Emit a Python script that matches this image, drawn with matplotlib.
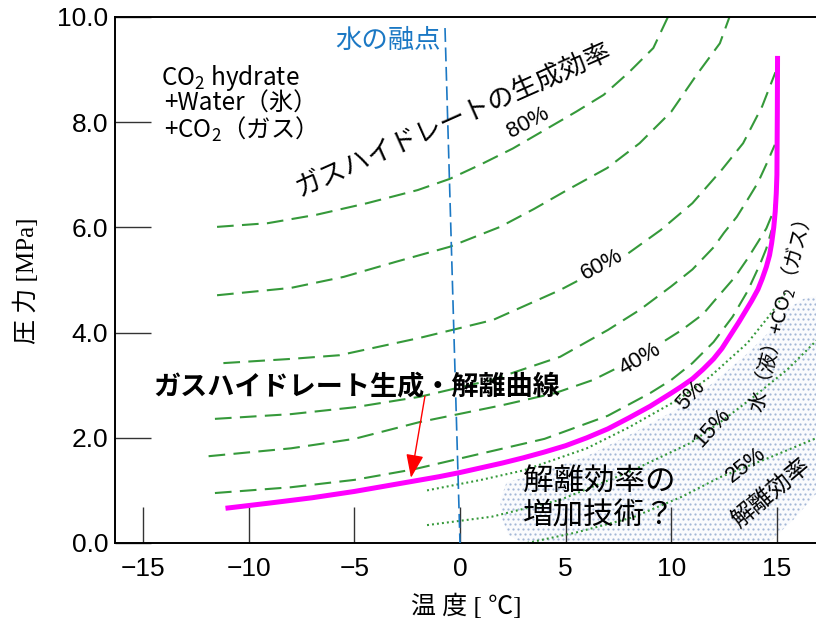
import matplotlib

matplotlib.use("Agg")
import matplotlib.pyplot as plt
import numpy as np
from matplotlib import font_manager
from matplotlib.patches import Polygon
from matplotlib.ticker import FormatStrFormatter
from matplotlib.transforms import IdentityTransform

JP = "Noto Sans CJK JP"
_names = {f.name for f in font_manager.fontManager.ttflist}
NUM = "Liberation Sans Narrow" if "Liberation Sans Narrow" in _names else "Liberation Sans"

plt.rcParams["font.family"] = [JP, "DejaVu Sans"]
plt.rcParams["mathtext.fontset"] = "custom"
plt.rcParams["mathtext.rm"] = JP
plt.rcParams["mathtext.it"] = JP
plt.rcParams["lines.scale_dashes"] = False

# hydrate formation / dissociation equilibrium (temperature degC, pressure MPa)
eq_T = [-11.1, -9, -7, -5, -3, -1, 0, 1, 2, 3, 4, 5, 6, 7, 8, 9, 10, 10.5, 11,
        11.5, 12, 12.4, 12.8, 13.2, 13.5, 13.8, 14.1, 14.3, 14.5, 14.65, 14.75,
        14.85, 14.92, 14.97, 15.0, 15.02, 15.03]
eq_P = [0.66, 0.76, 0.86, 0.98, 1.12, 1.26, 1.34, 1.43, 1.52, 1.62, 1.73, 1.85,
        2.0, 2.17, 2.38, 2.6, 2.85, 2.98, 3.12, 3.3, 3.5, 3.7, 3.95, 4.2, 4.4,
        4.6, 4.82, 5.02, 5.25, 5.47, 5.7, 6.0, 6.3, 6.65, 7.0, 8.2, 9.26]

# formation efficiency contours (dashed)
form_A_T = [-11.5, -9.1, -6.8, -4.4, -2.0, -0.5, 1, 2.5, 4, 5.5, 6.8, 8, 9.15, 9.9]
form_A_P = [6.01, 6.08, 6.24, 6.46, 6.71, 6.92, 7.2, 7.5, 7.85, 8.2, 8.52, 8.95, 9.41, 10.05]
form_B_T = [-11.5, -8, -5.5, -3, -0.5, 1.9, 3.5, 5.07, 6.97, 8.5, 10.0, 11.2, 12.3, 12.8]
form_B_P = [4.71, 4.85, 5.06, 5.35, 5.63, 6.01, 6.35, 6.71, 7.13, 7.6, 8.2, 8.9, 9.5, 10.05]
form_C_T = [-11.2, -8, -5.7, -1.9, 1.56, 4.74, 7.73, 9.5, 11.0, 12.4, 13.4, 14.3, 14.93]
form_C_P = [3.42, 3.5, 3.57, 3.9, 4.24, 4.81, 5.44, 5.95, 6.46, 7.1, 7.6, 8.3, 8.95]
form_D_T = [-11.6, -8, -5, -1.9, 1.5, 4.74, 7, 8.5, 10, 11, 12, 12.5, 13.1,
            13.6, 14.1, 14.5, 14.9]
form_D_P = [2.36, 2.45, 2.58, 2.78, 3.1, 3.54, 4.05, 4.43, 4.88, 5.2, 5.62, 5.9,
            6.2, 6.52, 6.85, 7.2, 7.57]
form_E_T = [-11.9, -8, -5, -1.9, 2, 4.5, 6.3, 8.5, 10.5, 11.5, 12.2, 13, 13.6,
            14.1, 14.5, 14.8, 15.0]
form_E_P = [1.65, 1.8, 1.98, 2.3, 2.62, 2.85, 3.1, 3.54, 4.05, 4.35, 4.68, 5.05,
            5.4, 5.72, 5.98, 6.27, 6.6]
form_F_T = [-11.6, -8, -5, -2.2, 1, 4, 7, 9, 10, 11, 12, 12.9, 13.6, 14.2, 14.5, 14.75]
form_F_P = [0.95, 1.06, 1.2, 1.4, 1.7, 1.98, 2.42, 2.85, 3.1, 3.42, 3.82, 4.3,
            4.78, 5.3, 5.6, 5.95]

# dissociation efficiency contours (dotted)
diss_5_T = [-1.56, 1, 3, 6.0, 8, 10.3, 11.8, 13.6, 14.6, 15.4]
diss_5_P = [1.0, 1.2, 1.38, 1.8, 2.2, 2.72, 3.15, 3.8, 4.3, 4.75]
diss_15_T = [-1.56, 1.5, 4.74, 8, 10.9, 12.5, 13.9, 15.5, 16.9]
diss_15_P = [0.34, 0.5, 0.82, 1.35, 1.9, 2.35, 2.78, 3.3, 3.86]
diss_25_T = [3.18, 5.5, 8.2, 10.5, 12.3, 14.5, 16.9]
diss_25_P = [0.0, 0.2, 0.49, 0.88, 1.25, 1.6, 2.0]

# region where dissociation could be improved
zone_T = [2.0, 1.9, 2.2, 3.5, 6, 8, 10.3, 12, 13.6, 14.6, 15.5, 16.3, 17,
          17, 15.8, 14.6, 3.0, 2.3]
zone_P = [0.45, 0.8, 1.15, 1.3, 1.65, 2.05, 2.55, 3.05, 3.6, 4.0, 4.45, 4.65, 4.7,
          1.0, 0.45, 0.0, 0.0, 0.15]

# ice melting point line
melt_T = [-0.71, 0.0]
melt_P = [9.79, 0.0]

x_ticks = [-15, -10, -5, 0, 5, 10, 15]
y_ticks = [0, 2, 4, 6, 8, 10]

GREEN = "#35993a"
BLUE = "#1b78c4"

fig = plt.figure(figsize=(8.16, 6.24), dpi=100)
ax = fig.add_axes([115 / 816, 1 - 543 / 624, 1 - 115 / 816, (543 - 17) / 624])
ax.set_xlim(-16.33, 16.85)
ax.set_ylim(0, 10)

# stippled zone: staggered dot screen (in pixels) clipped to the polygon
zone = Polygon(list(zip(zone_T, zone_P)), closed=True, facecolor="#fafbfd",
               edgecolor="none", zorder=1)
ax.add_patch(zone)
gx, gy = np.meshgrid(np.arange(470.0, 830.0, 5.0), np.arange(70.0, 350.0, 5.0))
gx[1::2] += 2.5
dots = ax.scatter(gx.ravel(), gy.ravel(), s=2.6, color="#a3b7d6", linewidths=0,
                  transform=IdentityTransform(), zorder=1)
dots.set_clip_path(zone)

for t, p in [(form_A_T, form_A_P), (form_B_T, form_B_P), (form_C_T, form_C_P),
             (form_D_T, form_D_P), (form_E_T, form_E_P), (form_F_T, form_F_P)]:
    ax.plot(t, p, color=GREEN, lw=1.5, dashes=(12, 6), zorder=2)

for t, p in [(diss_5_T, diss_5_P), (diss_15_T, diss_15_P), (diss_25_T, diss_25_P)]:
    ax.plot(t, p, color=GREEN, lw=1.5, dashes=(1.4, 2.2), zorder=2)

ax.plot(melt_T, melt_P, color=BLUE, lw=1.2, dashes=(10, 4), zorder=3)
ax.plot(eq_T, eq_P, color="#ff00ff", lw=3.6, solid_capstyle="butt",
        solid_joinstyle="round", zorder=4)

# axes frame and ticks
ax.spines["right"].set_visible(False)
for s in ("left", "bottom", "top"):
    ax.spines[s].set_linewidth(1.4)
ax.set_xticks(x_ticks)
ax.set_yticks(y_ticks)
ax.yaxis.set_major_formatter(FormatStrFormatter("%.1f"))
ax.tick_params(direction="in", length=26, width=1, color="#333333",
               labelsize=19, top=False, right=False)
ax.tick_params(axis="x", pad=10)
ax.tick_params(axis="y", pad=5)
for lab in ax.get_xticklabels() + ax.get_yticklabels():
    lab.set_fontfamily(NUM)

fig.text(466 / 816, 1 - 606 / 624, "温 度 [ ℃]", ha="center", va="center",
         fontsize=18, family=["Liberation Serif", JP])
fig.text(26 / 816, 1 - 281 / 624, "圧 力 [MPa]", ha="center", va="center",
         rotation=90, fontsize=18, family=["Liberation Serif", JP])

# annotations
ax.text(-14.15, 8.84, "CO$_2$ hydrate", fontsize=17.5, va="center", ha="left")
ax.text(-14.0, 8.35, "+Water（氷）", fontsize=17.5, va="center", ha="left")
ax.text(-14.0, 7.87, "+CO$_2$（ガス）", fontsize=17.5, va="center", ha="left")

ax.text(-3.4, 9.56, "水の融点", color=BLUE, fontsize=19, ha="center", va="center")

ax.text(-0.3, 8.05, "ガスハイドレートの生成効率", fontsize=19, rotation=24,
        rotation_mode="anchor", ha="center", va="center")

pct_box = dict(facecolor="white", edgecolor="none", pad=1)
ax.text(3.2, 8.0, "80%", fontsize=16, rotation=28, rotation_mode="anchor",
        ha="center", va="center", family=NUM)
ax.text(6.7, 5.3, "60%", fontsize=16, rotation=28, rotation_mode="anchor",
        ha="center", va="center", family=NUM, bbox=pct_box, zorder=5)
ax.text(8.5, 3.5, "40%", fontsize=16, rotation=30, rotation_mode="anchor",
        ha="center", va="center", family=NUM, bbox=pct_box, zorder=5)
ax.text(10.9, 2.8, "5%", fontsize=16, rotation=48, rotation_mode="anchor",
        ha="center", va="center", family=NUM, zorder=5)
ax.text(11.95, 2.2, "15%", fontsize=16, rotation=48, rotation_mode="anchor",
        ha="center", va="center", family=NUM, zorder=5)
ax.text(13.55, 1.48, "25%", fontsize=16, rotation=38, rotation_mode="anchor",
        ha="center", va="center", family=NUM, zorder=5)
ax.text(14.7, 0.95, "解離効率", fontsize=17, rotation=40, rotation_mode="anchor",
        ha="center", va="center", zorder=5)
ax.text(15.12, 4.3, "水（液）+CO$_2$（ガス）", fontsize=14.5, rotation=76,
        rotation_mode="anchor", ha="center", va="center", zorder=5)

ax.text(6.6, 0.83, "解離効率の\n増加技術？", fontsize=22, ha="center", va="center",
        linespacing=1.1, zorder=5)

ax.text(-4.9, 2.98, "ガスハイドレート生成・解離曲線", fontsize=19.5, fontweight="bold",
        ha="center", va="center", zorder=5)
ax.annotate("", xy=(-2.32, 1.24), xytext=(-1.66, 2.79),
            arrowprops=dict(arrowstyle="-|>,head_length=0.8,head_width=0.3",
                            color="red", lw=1, mutation_scale=18,
                            shrinkA=0, shrinkB=0), zorder=6)

fig.savefig("out.png", dpi=100)
